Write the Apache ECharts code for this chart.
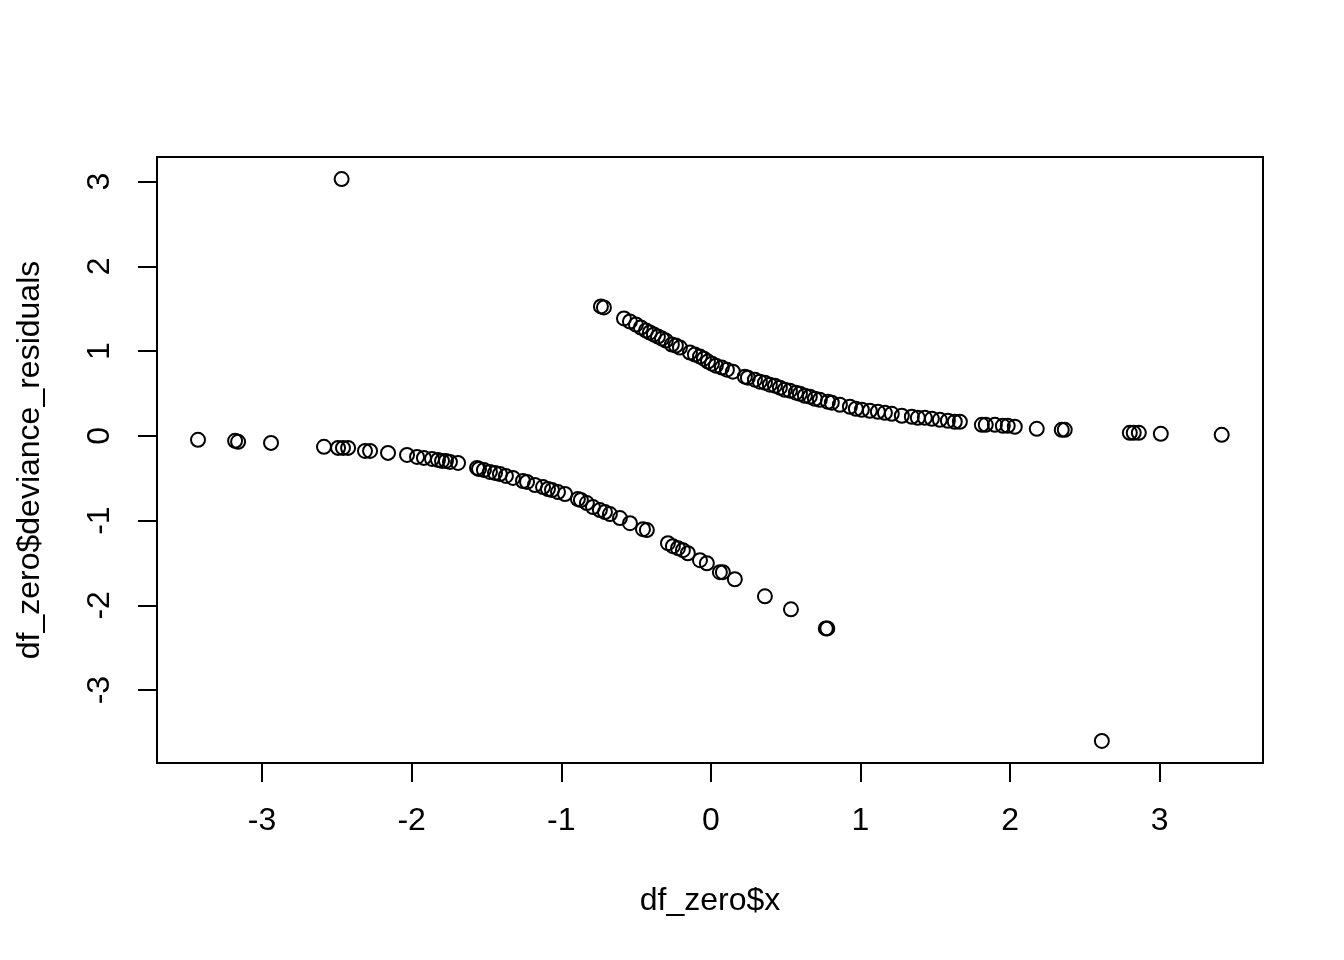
<!DOCTYPE html>
<html>
<head>
<meta charset="utf-8">
<script src="https://cdn.jsdelivr.net/npm/echarts@6/dist/echarts.min.js"></script>
<style>
html,body{margin:0;padding:0;background:#fff;}
#chart{width:1344px;height:960px;}
</style>
</head>
<body>
<div id="chart"></div>
<script>
// Upper branch (positive residuals)
const upperX = [-0.735,-0.715,-0.581,-0.541,-0.501,-0.468,-0.434,-0.408,-0.381,-0.354,-0.327,-0.301,-0.261,-0.234,-0.207,
  -0.140,-0.107,-0.073,-0.047,-0.020,0.007,0.033,0.073,0.107,0.147,0.227,0.247,0.294,0.327,0.361,0.394,0.428,0.461,0.494,
  0.528,0.568,0.595,0.628,0.661,0.695,0.728,0.782,0.808,0.862,0.929,0.969,1.009,1.062,1.116,1.163,1.209,1.276,1.343,1.383,
  1.430,1.477,1.530,1.584,1.630,1.664,1.811,1.837,1.898,1.951,1.984,2.031,2.178,2.345,2.365,2.800,2.826,2.860,3.007,3.414];
const upperY = [1.527,1.515,1.385,1.349,1.314,1.278,1.243,1.219,1.195,1.172,1.148,1.124,1.077,1.065,1.041,
  0.982,0.959,0.935,0.911,0.876,0.852,0.828,0.805,0.781,0.757,0.698,0.686,0.663,0.639,0.627,0.604,0.592,0.568,0.544,
  0.533,0.509,0.497,0.473,0.462,0.438,0.426,0.402,0.391,0.367,0.343,0.320,0.308,0.296,0.284,0.272,0.260,0.237,0.225,0.213,
  0.213,0.201,0.189,0.178,0.166,0.166,0.130,0.130,0.130,0.118,0.118,0.107,0.083,0.071,0.071,0.036,0.036,0.036,0.024,0.012];
// Lower branch (negative residuals)
const lowerX = [-3.428,-3.180,-3.160,-2.940,-2.586,-2.492,-2.459,-2.425,-2.312,-2.278,-2.158,-2.031,-1.964,-1.918,-1.864,
  -1.824,-1.797,-1.771,-1.744,-1.690,-1.563,-1.550,-1.517,-1.477,-1.443,-1.410,-1.370,-1.323,-1.256,-1.229,-1.176,-1.122,
  -1.089,-1.062,-1.022,-0.975,-0.889,-0.869,-0.829,-0.788,-0.742,-0.708,-0.675,-0.608,-0.541,-0.454,-0.428,-0.287,-0.254,
  -0.220,-0.187,-0.154,-0.073,-0.027,0.060,0.080,0.160,0.361,0.535,0.768,0.778];
const lowerY = [-0.047,-0.059,-0.071,-0.083,-0.130,-0.142,-0.142,-0.142,-0.178,-0.178,-0.201,-0.225,-0.249,-0.260,-0.272,
  -0.284,-0.296,-0.296,-0.308,-0.320,-0.379,-0.391,-0.402,-0.426,-0.438,-0.450,-0.473,-0.497,-0.533,-0.544,-0.580,-0.604,
  -0.627,-0.639,-0.663,-0.686,-0.746,-0.757,-0.793,-0.840,-0.876,-0.899,-0.923,-0.970,-1.030,-1.101,-1.112,-1.266,-1.302,
  -1.325,-1.349,-1.385,-1.467,-1.503,-1.609,-1.609,-1.692,-1.893,-2.047,-2.272,-2.272];
// Isolated points
const outlierX = [-2.468, 2.613];
const outlierY = [3.030, -3.600];
// Tick labels
const xTicks = [-3,-2,-1,0,1,2,3];
const yTicks = [-3,-2,-1,0,1,2,3];

const xs = upperX.concat(lowerX, outlierX);
const ys = upperY.concat(lowerY, outlierY);
const pts = xs.map((x,i)=>[x, ys[i]]);

const FONT = 'Liberation Sans, Arial, Helvetica, sans-serif';
const chart = echarts.init(document.getElementById('chart'), null, {renderer:'canvas'});
chart.setOption({
  animation:false,
  backgroundColor:'#ffffff',
  grid:{left:157, top:157, right:81, bottom:197, show:true, borderColor:'#000', borderWidth:2,
        backgroundColor:'transparent', containLabel:false, outerBoundsMode:'none'},
  xAxis:{
    type:'value', min:-3.702, max:3.690,
    splitLine:{show:false},
    axisLine:{show:false, onZero:false},
    axisTick:{show:true, inside:false, length:19, customValues:xTicks, lineStyle:{color:'#000', width:2}},
    axisLabel:{show:true, customValues:xTicks, margin:42, color:'#000', fontSize:32, fontFamily:FONT},
    name:'df_zero$x', nameLocation:'middle', nameGap:122,
    nameTextStyle:{color:'#000', fontSize:32, fontFamily:FONT}
  },
  yAxis:{
    type:'value', min:-3.86, max:3.29,
    splitLine:{show:false},
    axisLine:{show:false, onZero:false},
    axisTick:{show:true, inside:false, length:19, customValues:yTicks, lineStyle:{color:'#000', width:2}},
    axisLabel:{show:true, customValues:yTicks, margin:41, rotate:90, color:'#000', fontSize:32, fontFamily:FONT},
    name:'df_zero$deviance_residuals', nameLocation:'middle', nameGap:111,
    nameTextStyle:{color:'#000', fontSize:32, fontFamily:FONT}
  },
  series:[{
    type:'scatter',
    data:pts,
    symbol:'circle',
    symbolSize:14,
    itemStyle:{color:'rgba(0,0,0,0)', borderColor:'#000', borderWidth:2, opacity:1},
    emphasis:{disabled:true},
    silent:true
  }]
});
</script>
</body>
</html>
